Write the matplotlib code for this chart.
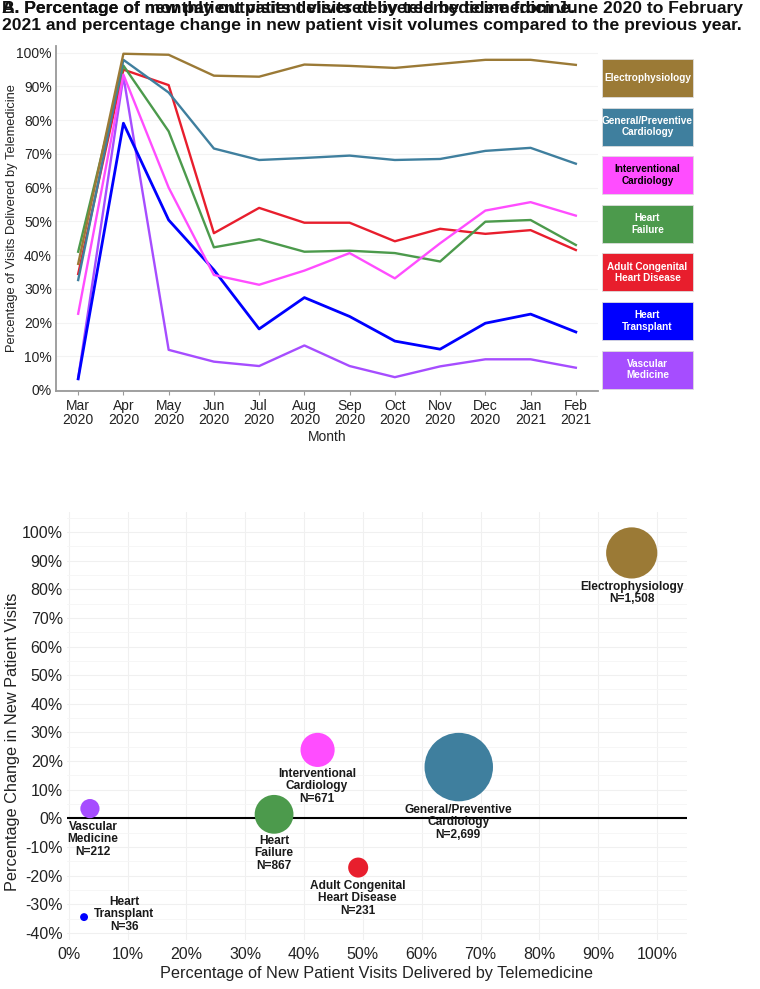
import matplotlib.pyplot as plt
from matplotlib.patches import Rectangle
from matplotlib.ticker import MultipleLocator, FuncFormatter

plt.rcParams['font.family'] = ['Liberation Sans', 'DejaVu Sans']

months = ['Mar\n2020', 'Apr\n2020', 'May\n2020', 'Jun\n2020', 'Jul\n2020', 'Aug\n2020',
          'Sep\n2020', 'Oct\n2020', 'Nov\n2020', 'Dec\n2020', 'Jan\n2021', 'Feb\n2021']

specialties = ['Electrophysiology', 'General/Preventive\nCardiology', 'Interventional\nCardiology',
               'Heart\nFailure', 'Adult Congenital\nHeart Disease', 'Heart\nTransplant', 'Vascular\nMedicine']
colors = ['#9B7A36', '#3F7F9E', '#FF4DFF', '#4C9A4C', '#E81E2D', '#0000FF', '#A64DFF']
text_colors = ['white', 'white', 'black', 'white', 'white', 'white', 'white']

# monthly % of visits by telemedicine (panel A)
electro = [37.4, 99.7, 99.4, 93.2, 92.9, 96.5, 96.1, 95.5, 96.7, 97.9, 97.9, 96.4]
general = [32.6, 97.9, 88.2, 71.6, 68.2, 68.8, 69.5, 68.2, 68.5, 70.9, 71.8, 67.1]
interv = [22.6, 93.5, 60.0, 34.1, 31.2, 35.4, 40.6, 33.1, 43.5, 53.2, 55.7, 51.7]
hf = [41.0, 96.2, 76.7, 42.3, 44.7, 41.0, 41.3, 40.6, 38.1, 49.9, 50.4, 43.0]
achd = [34.4, 95.0, 90.4, 46.5, 54.0, 49.6, 49.6, 44.1, 47.8, 46.3, 47.4, 41.5]
transplant = [3.3, 79.1, 50.4, 35.6, 18.1, 27.4, 21.8, 14.5, 12.1, 19.8, 22.5, 17.2]
vascular = [3.5, 93.0, 11.9, 8.4, 7.1, 13.2, 7.1, 3.8, 7.0, 9.1, 9.1, 6.6]

# panel B: new patient visits
tele_pct = [95.7, 66.3, 42.3, 34.9, 49.2, 2.6, 3.6]
change_pct = [92.7, 17.9, 23.9, 1.4, -17.2, -34.5, 3.4]
n_visits = [1508, 2699, 671, 867, 231, 36, 212]
bubble_labels = ['Electrophysiology\nN=1,508', 'General/Preventive\nCardiology\nN=2,699',
                 'Interventional\nCardiology\nN=671', 'Heart\nFailure\nN=867',
                 'Adult Congenital\nHeart Disease\nN=231', 'Heart\nTransplant\nN=36',
                 'Vascular\nMedicine\nN=212']
label_x = [95.7, 66.2, 42.2, 34.9, 49.1, 9.4, 4.1]
label_y = [83.0, 5.0, 17.6, -5.8, -21.5, -27.1, -0.9]

fig = plt.figure(figsize=(7.6, 9.89), dpi=100)
W, H = 760, 989

def pct(v, pos):
    return '%d%%' % round(v)

# ---- title (two overlapping titles as in the source image)
fig.text(0.002, 0.999, 'A. Percentage of monthly outpatient visits delivered by telemedicine.',
         fontsize=12.6, fontweight='bold', va='top', ha='left', color='#111111')
fig.text(0.002, 0.999, 'B. Percentage of new patient visits delivered by telemedicine from June 2020 to February\n'
         '2021 and percentage change in new patient visit volumes compared to the previous year.',
         fontsize=12.6, fontweight='bold', va='top', ha='left', color='#111111', linespacing=1.2)

# ---- panel A
ax1 = fig.add_axes([56 / W, 1 - 391 / H, (598 - 56) / W, (391 - 46) / H])
x = list(range(len(months)))
series = [electro, general, interv, hf, achd, transplant, vascular]
for s, c in zip(series[::-1], colors[::-1]):
    lw = 2.0 if c == '#0000FF' else 1.7
    ax1.plot(x, s, color=c, lw=lw)
ax1.set_xlim(-0.49, 11.49)
ax1.set_ylim(-0.3, 102)
ax1.set_xticks(x)
ax1.set_xticklabels(months, fontsize=10, color='#222222', linespacing=1.0)
ax1.yaxis.set_major_locator(MultipleLocator(10))
ax1.yaxis.set_major_formatter(FuncFormatter(pct))
ax1.tick_params(axis='y', labelsize=10, labelcolor='#222222', length=0, pad=3)
ax1.tick_params(axis='x', length=3, color='#999999', pad=3)
ax1.grid(axis='y', color='#F3F3F3', lw=0.8)
ax1.set_axisbelow(True)
for sp in ['top', 'right']:
    ax1.spines[sp].set_visible(False)
for sp in ['left', 'bottom']:
    ax1.spines[sp].set_color('#999999')
    ax1.spines[sp].set_linewidth(1.3)
ax1.set_xlabel('Month', fontsize=10, color='#222222', labelpad=2)
ax1.set_ylabel('Percentage of Visits Delivered by Telemedicine', fontsize=9.3, color='#222222')
ax1.yaxis.set_label_coords(-0.07, 0.5)

# legend boxes
box_top = 59
for i, (lab, c, tc) in enumerate(zip(specialties, colors, text_colors)):
    top = box_top + i * 48.6
    r = Rectangle((602 / W, 1 - (top + 38) / H), 91 / W, 38 / H, transform=fig.transFigure,
                  facecolor=c, edgecolor='#dddddd', lw=0.6)
    fig.add_artist(r)
    fig.text(647.5 / W, 1 - (top + 19) / H, lab, fontsize=7.2, fontweight='bold', color=tc,
             ha='center', va='center', linespacing=1.2)

# ---- panel B
ax2 = fig.add_axes([67 / W, 1 - 940 / H, (687 - 67) / W, (940 - 512) / H])
sizes = [0.9 * n for n in n_visits]
ax2.scatter(tele_pct, change_pct, s=sizes, c=colors, edgecolors='none', zorder=3)
ax2.axhline(0, color='black', lw=1.5, zorder=2)
for lx, ly, lab in zip(label_x, label_y, bubble_labels):
    ax2.text(lx, ly, lab, fontsize=8.6, fontweight='bold', color='#1a1a1a', ha='center', va='top',
             linespacing=1.05, zorder=4)
ax2.set_xlim(-0.3, 105.1)
ax2.set_ylim(-42.5, 107)
ax2.xaxis.set_major_locator(MultipleLocator(10))
ax2.yaxis.set_major_locator(MultipleLocator(10))
ax2.yaxis.set_minor_locator(MultipleLocator(5))
ax2.xaxis.set_major_formatter(FuncFormatter(pct))
ax2.yaxis.set_major_formatter(FuncFormatter(pct))
ax2.tick_params(axis='both', which='both', length=0, labelsize=11.5, labelcolor='#222222')
ax2.tick_params(axis='y', pad=3)
ax2.tick_params(axis='x', pad=5)
ax2.grid(which='major', color='#F0F0F0', lw=0.8)
ax2.grid(which='minor', axis='y', color='#F5F5F5', lw=0.6)
ax2.set_axisbelow(True)
for sp in ax2.spines.values():
    sp.set_visible(False)
ax2.set_xlabel('Percentage of New Patient Visits Delivered by Telemedicine', fontsize=11.7,
               color='#222222', labelpad=3)
ax2.set_ylabel('Percentage Change in New Patient Visits', fontsize=11.7, color='#222222')
ax2.yaxis.set_label_coords(-0.075, 0.463)

fig.savefig('out.png', dpi=100, facecolor='white')
